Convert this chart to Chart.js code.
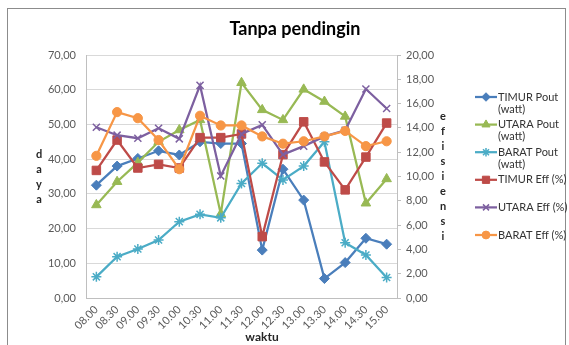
<!DOCTYPE html>
<html>
<head>
<meta charset="utf-8">
<script src="https://cdn.jsdelivr.net/npm/chart.js@4.4.1/dist/chart.umd.min.js"></script>
<style>
  html, body { margin: 0; padding: 0; background: #ffffff; }
  #wrap { width: 569px; height: 345px; position: relative; }
</style>
</head>
<body>
<div id="wrap"><canvas id="c" width="569" height="345"></canvas></div>
<script>
// Time of measurement
const waktu = ['08.00','08.30','09.00','09.30','10.00','10.30','11.00','11.30','12.00','12.30','13.00','13.30','14.00','14.30','15.00'];

// Output power (watt), left axis
const timurPout = [32.5, 38.0, 40.2, 42.4, 41.2, 45.0, 44.5, 44.5, 13.8, 37.1, 28.2, 5.6, 10.2, 17.2, 15.5];
const utaraPout = [26.8, 33.5, 39.0, 45.0, 48.4, 51.3, 24.2, 62.0, 54.2, 51.3, 60.1, 56.6, 52.3, 27.3, 34.3];
const baratPout = [6.1, 11.9, 14.1, 16.7, 22.0, 24.1, 23.1, 33.0, 38.8, 34.0, 38.0, 45.0, 15.9, 12.4, 5.9];

// Efficiency (%), right axis
const timurEff = [10.5, 13.0, 10.7, 11.0, 10.7, 13.2, 13.2, 13.5, 5.05, 11.8, 14.5, 11.2, 8.9, 11.6, 14.4];
const utaraEff = [14.05, 13.4, 13.15, 13.97, 13.1, 17.5, 10.05, 13.5, 14.25, 11.8, 12.5, 13.3, 13.8, 17.2, 15.6];
const baratEff = [11.7, 15.3, 14.8, 13.0, 10.6, 15.0, 14.2, 14.2, 13.3, 12.7, 12.9, 13.3, 13.75, 12.5, 12.9];

// Axis tick labels
const dayaTicks = ['0,00','10,00','20,00','30,00','40,00','50,00','60,00','70,00'];
const efisiensiTicks = ['0,00','2,00','4,00','6,00','8,00','10,00','12,00','14,00','16,00','18,00','20,00'];

const chartTitle = 'Tanpa pendingin';
const leftTitle = 'daya';
const rightTitle = 'efisiensi';
const bottomTitle = 'waktu';

const FONT = 'Lato, "Open Sans", "Liberation Sans", sans-serif';

function series(label, data, color, style, radius, axis, idx) {
  return {
    label: label,
    data: data,
    yAxisID: axis,
    borderColor: color,
    backgroundColor: color,
    pointBackgroundColor: color,
    pointBorderColor: color,
    pointStyle: style,
    pointRadius: radius,
    pointBorderWidth: (style === 'crossRot' || style === 'star') ? 1.5 : 1,
    borderWidth: 2.25,
    tension: 0,
    order: 10 - idx
  };
}

const datasets = [
  series('TIMUR Pout (watt)', timurPout, '#4a7ebb', 'rectRot', 5, 'yDaya', 0),
  series('UTARA Pout (watt)', utaraPout, '#98b954', 'triangle', 5.5, 'yDaya', 1),
  series('BARAT Pout (watt)', baratPout, '#4bacc6', 'star', 5, 'yDaya', 2),
  series('TIMUR Eff (%)', timurEff, '#be4b48', 'rect', 6, 'yEff', 3),
  series('UTARA Eff (%)', utaraEff, '#7d60a0', 'crossRot', 5, 'yEff', 4),
  series('BARAT Eff (%)', baratEff, '#f79646', 'circle', 4.6, 'yEff', 5)
];

// Frame, title, stacked axis titles and a side legend
const decor = {
  id: 'decor',
  beforeDraw(chart) {
    const ctx = chart.ctx;
    ctx.save();
    ctx.fillStyle = '#ffffff';
    ctx.fillRect(0, 0, chart.width, chart.height);
    ctx.strokeStyle = '#8c8c8c';
    ctx.lineWidth = 1;
    ctx.strokeRect(7.5, 8.5, chart.width - 11, chart.height + 10);
    ctx.restore();
  },
  afterDraw(chart) {
    const ctx = chart.ctx;
    const a = chart.chartArea;
    ctx.save();
    ctx.textBaseline = 'middle';

    // title
    ctx.fillStyle = '#000000';
    ctx.font = 'bold 18px ' + FONT;
    ctx.textAlign = 'center';
    ctx.fillText(chartTitle, 295, 29);

    // stacked axis titles
    ctx.font = 'bold 11px ' + FONT;
    ctx.fillStyle = '#262626';
    const midY = (a.top + a.bottom) / 2;
    const step = 15;
    const l = leftTitle.split('');
    l.forEach((ch, i) => ctx.fillText(ch, 39, midY + (i - (l.length - 1) / 2) * step));
    const r = rightTitle.split('');
    r.forEach((ch, i) => ctx.fillText(ch, 443, midY + (i - (r.length - 1) / 2) * step));

    // x axis title
    ctx.font = 'bold 12px ' + FONT;
    ctx.fillText(bottomTitle, 262, 337);

    // legend
    ctx.font = '11px ' + FONT;
    ctx.textAlign = 'left';
    const x0 = 475, x1 = 497;
    chart.data.datasets.forEach((ds, i) => {
      const y = 97 + i * 27.6;
      ctx.strokeStyle = ds.borderColor;
      ctx.lineWidth = 2.25;
      ctx.beginPath();
      ctx.moveTo(x0, y);
      ctx.lineTo(x1, y);
      ctx.stroke();
      ctx.fillStyle = ds.pointBackgroundColor;
      ctx.strokeStyle = ds.pointBorderColor;
      ctx.lineWidth = ds.pointBorderWidth;
      Chart.helpers.drawPoint(ctx, {
        pointStyle: ds.pointStyle,
        radius: ds.pointRadius * 0.85,
        rotation: 0,
        borderWidth: ds.pointBorderWidth
      }, (x0 + x1) / 2, y);
      ctx.fillStyle = '#333333';
      let lines = [ds.label];
      if (ds.label.length > 14) {
        const k = ds.label.lastIndexOf(' ');
        lines = [ds.label.slice(0, k), ds.label.slice(k + 1)];
      }
      lines.forEach((t, j) => ctx.fillText(t, x1 + 1, y + j * 12));
    });
    ctx.restore();
  }
};

new Chart(document.getElementById('c'), {
  type: 'line',
  data: { labels: waktu, datasets: datasets },
  plugins: [decor],
  options: {
    responsive: false,
    animation: false,
    layout: { padding: { top: 55, left: 0, right: 0, bottom: 0 } },
    plugins: { legend: { display: false }, title: { display: false }, tooltip: { enabled: false } },
    scales: {
      x: {
        offset: true,
        grid: { display: false, drawTicks: false },
        border: { display: true, color: '#bfbfbf', width: 1 },
        ticks: {
          autoSkip: false, minRotation: 45, maxRotation: 45,
          color: '#595959', font: { family: FONT, size: 11 }, padding: 5
        },
        afterFit(s) { s.height = 47; }
      },
      yDaya: {
        position: 'left',
        min: 0, max: 70,
        ticks: {
          stepSize: 10, padding: 10, color: '#595959', font: { family: FONT, size: 11 },
          callback: (v, i) => dayaTicks[i]
        },
        grid: { color: '#d9d9d9', drawTicks: false, lineWidth: 1 },
        border: { display: true, color: '#bfbfbf' },
        afterFit(s) { s.width = 86; }
      },
      yEff: {
        position: 'right',
        min: 0, max: 20,
        ticks: {
          stepSize: 2, padding: 5, color: '#595959', font: { family: FONT, size: 11 },
          callback: (v, i) => efisiensiTicks[i]
        },
        grid: { drawOnChartArea: false, drawTicks: true, tickLength: 4, color: '#bfbfbf' },
        border: { display: true, color: '#bfbfbf' },
        afterFit(s) { s.width = 172; }
      }
    }
  }
});
</script>
</body>
</html>
